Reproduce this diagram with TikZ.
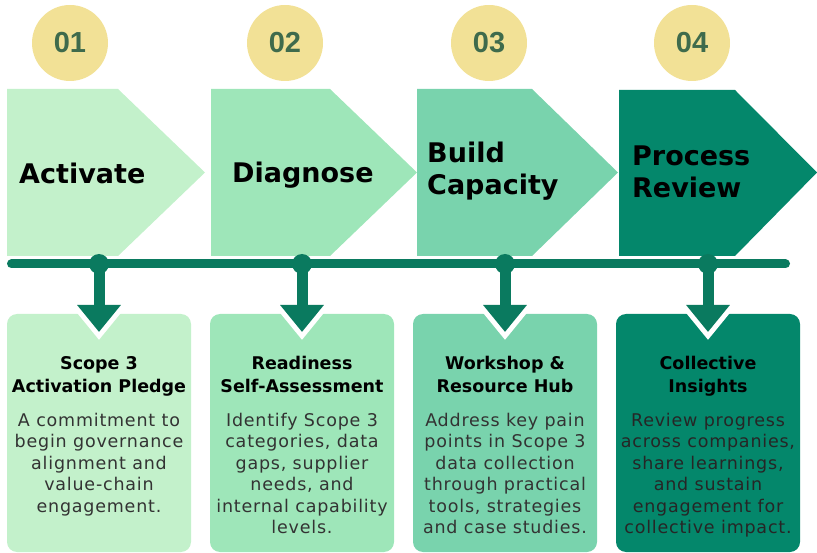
\documentclass[tikz,border=0pt]{standalone}
\usepackage{fontspec}
\setmainfont{Liberation Sans}
\newfontfamily\headfont{DejaVu Sans}
\newfontfamily\bodyfont{DejaVu Sans}[LetterSpace=4.5]
\usetikzlibrary{arrows.meta}
\definecolor{cA}{HTML}{C3F1CB}
\definecolor{cB}{HTML}{9EE6B9}
\definecolor{cC}{HTML}{79D3AD}
\definecolor{cD}{HTML}{04876B}
\definecolor{tl}{HTML}{0A7A5F}
\definecolor{circ}{HTML}{F2E196}
\definecolor{numc}{HTML}{3F6B4C}
\definecolor{bodyc}{HTML}{333333}
\tikzset{
  numcirc/.style={circle, fill=circ, minimum size=76pt, inner sep=0pt, text=numc, font=\fontsize{29}{30}\selectfont\bfseries},
  head/.style={inner sep=0pt, align=left, text=black, font=\headfont\bfseries\fontsize{27}{32}\selectfont},
  stepcard/.style={rounded corners=10pt, minimum width=184pt, minimum height=238pt, inner sep=0pt},
  cardtitle/.style={inner sep=0pt, align=center, anchor=north, text=black, font=\headfont\bfseries\fontsize{17.5}{23}\selectfont},
  cardbody/.style={inner sep=0pt, align=center, anchor=north, text=bodyc, font=\bodyfont\fontsize{17.5}{21.5}\selectfont},
  tldot/.style={circle, fill=tl, minimum size=20pt, inner sep=0pt},
  halo/.style={white, line width=12pt, -{Triangle[width=56pt,length=36pt]}},
  downarrow/.style={tl, line width=11pt, -{Triangle[width=42pt,length=27pt]}},
}
\begin{document}
\begin{tikzpicture}[x=1pt,y=-1pt]
\useasboundingbox (0,0) rectangle (817,553);
% number circles
\node[numcirc] (n1) at (70,43) {01};
\node[numcirc] (n2) at (285,43) {02};
\node[numcirc] (n3) at (489,43) {03};
\node[numcirc] (n4) at (692,43) {04};
% chevrons
\fill[cA] (7,89) -- (118,89) -- (205,172.5) -- (118,256) -- (7,256) -- cycle;
\fill[cB] (211,89) -- (330,89) -- (417,172.5) -- (330,256) -- (211,256) -- cycle;
\fill[cC] (417,89) -- (532,89) -- (618,172.5) -- (532,256) -- (417,256) -- cycle;
\fill[cD] (619,90) -- (735,90) -- (817,172.5) -- (735,256) -- (619,256) -- cycle;
\node[head, anchor=base west] (h1) at (19,184) {Activate};
\node[head, anchor=base west] (h2) at (232,183) {Diagnose};
\node[head, anchor=north west] (h3) at (427,141.5) {Build\\Capacity};
\node[head, anchor=north west] (h4) at (632,145.3) {Process\\Review};
% cards
\node[stepcard, fill=cA] (c1) at (99,433) {};
\node[stepcard, fill=cB] (c2) at (302,433) {};
\node[stepcard, fill=cC] (c3) at (505,433) {};
\node[stepcard, fill=cD] (c4) at (708,433) {};
% arrow halos
\coordinate (w1) at (99,340);
\coordinate (w2) at (302,340);
\coordinate (w3) at (505,340);
\coordinate (w4) at (708,340);
\coordinate (s1) at (99,290);
\coordinate (s2) at (302,290);
\coordinate (s3) at (505,290);
\coordinate (s4) at (708,290);
\draw[halo] (s1) -- (w1);
\draw[halo] (s2) -- (w2);
\draw[halo] (s3) -- (w3);
\draw[halo] (s4) -- (w4);
% timeline
\coordinate (tlL) at (11.5,264);
\coordinate (tlR) at (785.5,264);
\draw[tl, line width=9pt, line cap=round] (tlL) -- (tlR);
\node[tldot] (d1) at (99,264) {};
\node[tldot] (d2) at (302,264) {};
\node[tldot] (d3) at (505,264) {};
\node[tldot] (d4) at (708,264) {};
\coordinate (t1) at (99,332);
\coordinate (t2) at (302,332);
\coordinate (t3) at (505,332);
\coordinate (t4) at (708,332);
\draw[downarrow] (d1.center) -- (t1);
\draw[downarrow] (d2.center) -- (t2);
\draw[downarrow] (d3.center) -- (t3);
\draw[downarrow] (d4.center) -- (t4);
% card texts
\node[cardtitle] (k1) at (99,356.5) {Scope 3\\Activation Pledge};
\node[cardtitle] (k2) at (302,356) {Readiness\\Self-Assessment};
\node[cardtitle] (k3) at (505,356) {Workshop \&\\Resource Hub};
\node[cardtitle] (k4) at (708,356) {Collective\\Insights};
\node[cardbody] (b1) at (99,413) {A commitment to\\begin governance\\alignment and\\value-chain\\engagement.};
\node[cardbody] (b2) at (302,413) {Identify Scope 3\\categories, data\\gaps, supplier\\needs, and\\internal capability\\levels.};
\node[cardbody] (b3) at (505,413) {Address key pain\\points in Scope 3\\data collection\\through practical\\tools, strategies\\and case studies.};
\node[cardbody, text=black!85] (b4) at (708,413) {Review progress\\across companies,\\share learnings,\\and sustain\\engagement for\\collective impact.};
\end{tikzpicture}
\end{document}
